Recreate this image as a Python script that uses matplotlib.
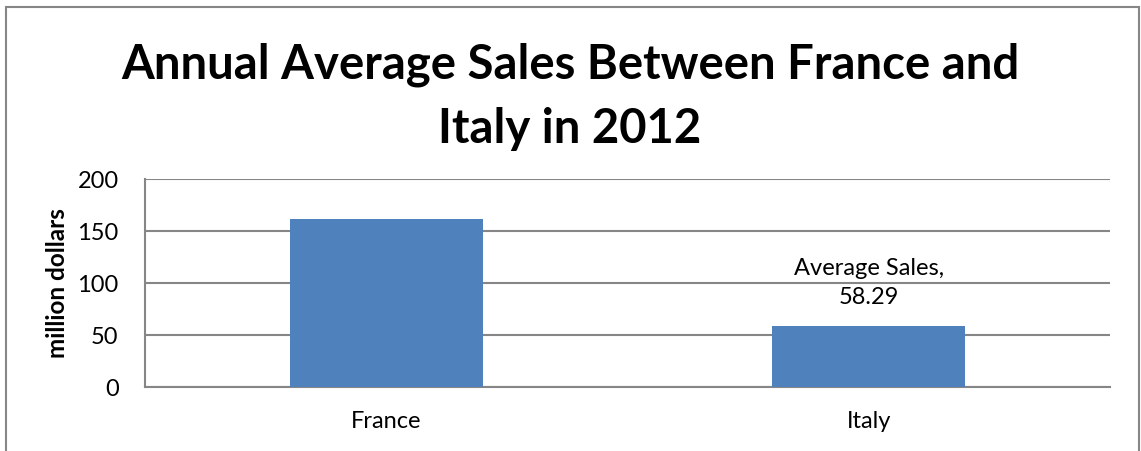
import matplotlib
matplotlib.use("Agg")
import matplotlib.pyplot as plt
from matplotlib.patches import Rectangle

categories = ["France", "Italy"]
avg_sales = [161.2, 58.29]
y_ticks = [0, 50, 100, 150, 200]
title = "Annual Average Sales Between France and\nItaly in 2012"
y_label = "million dollars"
series_name = "Average Sales"

plt.rcParams['font.family'] = ['Lato', 'DejaVu Sans']

W, H = 1141, 451
fig = plt.figure(figsize=(W / 100, H / 100), dpi=100)
fig.patch.set_facecolor("white")

# outer chart border
fig.add_artist(Rectangle((6 / W, -0.05), (1139 - 6) / W, 1.05 - 7 / H,
                         transform=fig.transFigure, fill=False,
                         edgecolor="#868686", linewidth=1.5))

left, right, top, bottom = 145, 1110, 179, 387
ax = fig.add_axes([left / W, 1 - bottom / H, (right - left) / W, (bottom - top) / H])

x = list(range(len(categories)))
bars = ax.bar(x, avg_sales, width=0.4, color="#4F81BD", zorder=3)
ax.set_xlim(-0.5, len(categories) - 0.5)
ax.set_ylim(0, 200)
ax.set_yticks(y_ticks)
ax.set_xticks(x)
ax.set_xticklabels(categories, fontsize=17)
ax.tick_params(axis='y', labelsize=17, length=0, pad=19)
ax.tick_params(axis='x', length=0, pad=17)
ax.grid(axis='y', color="#868686", linewidth=1.5, zorder=0)
for s in ["top", "right"]:
    ax.spines[s].set_visible(False)
for s in ["left", "bottom"]:
    ax.spines[s].set_color("#868686")
    ax.spines[s].set_linewidth(1.5)

ax.set_ylabel(y_label, fontsize=17.5, fontweight='bold', labelpad=6)

# data label on Italy
ax.annotate(f"{series_name},\n{avg_sales[1]:.2f}", xy=(x[1], avg_sales[1]),
            xytext=(0, 13), textcoords="offset points", ha="center", va="bottom",
            fontsize=17, linespacing=1.5)

fig.text(570 / W, 1 - 97 / H, title, ha="center", va="center", fontsize=34,
         fontweight="bold", linespacing=1.55)

fig.savefig("out.png", dpi=100)
